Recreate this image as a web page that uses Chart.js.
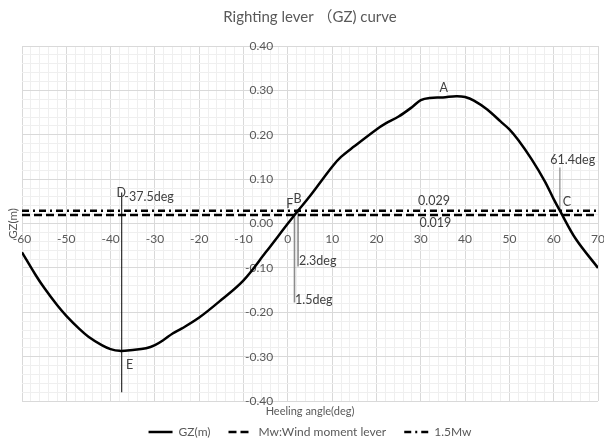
<!DOCTYPE html>
<html><head><meta charset="utf-8">
<script src="https://cdn.jsdelivr.net/npm/chart.js@4/dist/chart.umd.min.js"></script>
<style>html,body{margin:0;padding:0;background:#fff}#wrap{width:604px;height:448px}</style>
</head><body><div id="wrap"><canvas id="c" width="604" height="448"></canvas></div>
<script>
// ---- data ----
const angles = [-60,-57,-55,-52,-50,-47,-45,-42,-40,-38,-35,-32,-30,-28,-26,-24,-20,-15,-10,-5,0,1.5,2.3,5,10,12,15,20,22,25,28,30,32,35,38,40,42,45,48,50,52,55,58,60,61.4,65,70];
const gz = [-0.065,-0.115,-0.145,-0.185,-0.208,-0.238,-0.255,-0.274,-0.283,-0.287,-0.285,-0.281,-0.274,-0.262,-0.248,-0.237,-0.212,-0.172,-0.128,-0.065,0.0,0.019,0.029,0.062,0.128,0.150,0.174,0.212,0.225,0.241,0.262,0.278,0.283,0.284,0.287,0.285,0.277,0.257,0.230,0.212,0.188,0.145,0.095,0.055,0.029,-0.035,-0.10];
const leverAngles = [-60, 70];
const mw = [0.019, 0.019];
const mw15 = [0.029, 0.029];
const seriesNames = ['GZ(m)', 'Mw:Wind moment lever', '1.5Mw'];
// marker lines: angle, top GZ, bottom GZ
const markerAngles = [-37.5, 1.5, 2.3, 61.4];
const markerTop = [0.07, 0.019, 0.029, 0.126];
const markerBottom = [-0.38, -0.178, -0.097, 0.029];
// text labels: text, angle, GZ
const noteText = ['A', 'B', 'F', 'C', 'D', '-37.5deg', 'E', '2.3deg', '1.5deg', '61.4deg', '0.029', '0.019'];
const noteAngle = [35.2, 2.2, 0.45, 63.0, -37.6, -36.9, -35.7, 2.5, 1.6, 64.3, 33.0, 33.3];
const noteGZ = [0.305, 0.056, 0.044, 0.048, 0.068, 0.059, -0.318, -0.085, -0.172, 0.144, 0.050, 0.0015];
const xTickLabels = [-60,-50,-40,-30,-20,-10,0,10,20,30,40,50,60,70];
const yTickValues = [-0.4,-0.3,-0.2,-0.1,0,0.1,0.2,0.3,0.4];
const yTickLabels = ['-0.40','-0.30','-0.20','-0.10','0.00','0.10','0.20','0.30','0.40'];
const titleText = 'Righting lever （GZ) curve';
const xTitle = 'Heeling angle(deg)';
const yTitle = 'GZ(m)';

// ---- build ----
const FONT = "Lato, 'Noto Sans CJK JP', sans-serif";
const pts = (xs, ys) => xs.map((v, i) => ({x: v, y: ys[i]}));
const datasets = [
  {label: seriesNames[0], data: pts(angles, gz), borderColor: '#000', borderWidth: 2.5, tension: 0.35, pointRadius: 0},
  {label: seriesNames[1], data: pts(leverAngles, mw), borderColor: '#000', borderWidth: 2.5, borderDash: [8, 4], pointRadius: 0},
  {label: seriesNames[2], data: pts(leverAngles, mw15), borderColor: '#000', borderWidth: 2.5, borderDash: [7, 4, 2, 4], pointRadius: 0}
];
const markerColors = ['#1a1a1a', '#8c8c8c', '#595959', '#7f7f7f'];
markerAngles.forEach((a, i) => {
  datasets.push({label: '_m' + i, data: [{x: a, y: markerTop[i]}, {x: a, y: markerBottom[i]}],
    borderColor: markerColors[i], borderWidth: i === 1 ? 1.6 : 1.1, pointRadius: 0, tension: 0});
});
const isMajorY = v => Math.abs(Math.round(v * 100)) % 10 === 0;
const isMajorX = v => Math.round(v) % 10 === 0;

const notesPlugin = {
  id: 'notes',
  afterDatasetsDraw(chart) {
    const {ctx, scales: {x, y}, chartArea} = chart;
    ctx.save();
    ctx.fillStyle = '#404040';
    ctx.font = '12.5px ' + FONT;
    ctx.textBaseline = 'middle';
    noteText.forEach((t, i) => {
      ctx.textAlign = t.endsWith('deg') && t !== '61.4deg' ? 'left' : 'center';
      ctx.fillText(t, x.getPixelForValue(noteAngle[i]), y.getPixelForValue(noteGZ[i]));
    });
    ctx.fillStyle = '#595959';
    ctx.font = '11px ' + FONT;
    ctx.textAlign = 'center';
    ctx.fillText(xTitle, (chartArea.left + chartArea.right) / 2, chartArea.bottom + 10);
    ctx.font = '11.5px ' + FONT;
    ctx.translate(13, (chartArea.top + chartArea.bottom) / 2);
    ctx.rotate(-Math.PI / 2);
    ctx.fillText(yTitle, 0, 0);
    ctx.restore();
  }
};

new Chart(document.getElementById('c'), {
  type: 'line',
  data: {datasets},
  options: {
    responsive: false, animation: false, devicePixelRatio: 1,
    layout: {padding: {left: 22, right: 6, top: 0, bottom: 0}},
    plugins: {
      title: {display: true, text: titleText, color: '#595959', font: {family: FONT, size: 15, weight: 'normal'}, padding: {top: 8, bottom: 20}},
      legend: {position: 'bottom',
        title: {display: true, text: '', font: {size: 5}, padding: {top: 1, bottom: 0}},
        labels: {usePointStyle: true, pointStyle: 'line', pointStyleWidth: 24, padding: 18, color: '#595959', font: {family: FONT, size: 12},
          filter: item => !item.text.startsWith('_'),
          generateLabels: chart => Chart.defaults.plugins.legend.labels.generateLabels(chart).map(it =>
            Object.assign(it, {lineDash: chart.data.datasets[it.datasetIndex].borderDash || []}))}},
      tooltip: {enabled: false}
    },
    scales: {
      x: {type: 'linear', min: -60, max: 70, position: {y: 0},
        ticks: {stepSize: 2, autoSkip: false, maxRotation: 0, padding: 8, color: '#595959', font: {family: FONT, size: 12},
          callback: v => xTickLabels.includes(Math.round(v)) && isMajorX(v) ? String(Math.round(v)) : ''},
        grid: {color: c => (c.tick && isMajorX(c.tick.value)) ? '#d9d9d9' : '#efefef', drawTicks: false},
        border: {color: '#d9d9d9'},
        afterFit: s => { s.paddingLeft = 0; s.paddingRight = 0; }
      },
      y: {type: 'linear', min: -0.4, max: 0.4, position: {x: -3.3},
        ticks: {stepSize: 0.02, autoSkip: false, color: '#595959', font: {family: FONT, size: 12},
          callback: v => { const i = yTickValues.findIndex(t => Math.abs(t - v) < 1e-9); return i >= 0 ? yTickLabels[i] : ''; }},
        grid: {color: c => (c.tick && isMajorY(c.tick.value)) ? '#d9d9d9' : '#efefef', drawTicks: false},
        border: {display: false},
        afterFit: s => { s.paddingTop = 0; s.paddingBottom = 0; }
      }
    }
  },
  plugins: [notesPlugin]
});
</script></body></html>
